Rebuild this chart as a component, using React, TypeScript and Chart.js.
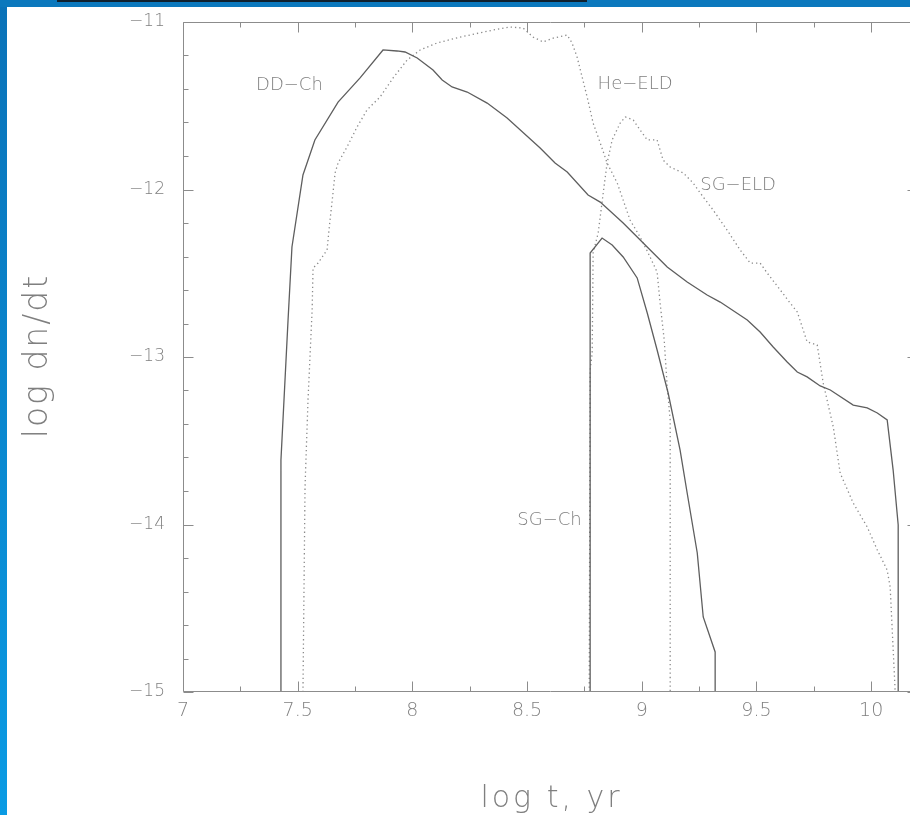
import React, { useEffect, useRef } from "react";
import { Chart, registerables } from "chart.js";

Chart.register(...registerables);

// ---------- data (log t in yr, log dn/dt) ----------
const ddChX = [7.423, 7.427, 7.458, 7.475, 7.523, 7.575, 7.676, 7.772, 7.872, 7.933, 7.968, 8.021, 8.09, 8.13, 8.173, 8.239, 8.326, 8.413, 8.557, 8.622, 8.675, 8.766, 8.819, 8.919, 9.015, 9.111, 9.198, 9.285, 9.342, 9.46, 9.516, 9.573, 9.634, 9.678, 9.721, 9.778, 9.822, 9.922, 9.983, 10.027, 10.07, 10.096, 10.118, 10.118];
const ddChY = [-15, -13.615, -12.779, -12.343, -11.913, -11.704, -11.478, -11.334, -11.167, -11.173, -11.179, -11.215, -11.287, -11.346, -11.388, -11.418, -11.484, -11.573, -11.752, -11.842, -11.896, -12.033, -12.075, -12.2, -12.331, -12.463, -12.552, -12.63, -12.672, -12.779, -12.851, -12.94, -13.03, -13.09, -13.119, -13.173, -13.197, -13.287, -13.304, -13.334, -13.376, -13.675, -14.003, -15];

const sgChX = [8.775, 8.775, 8.827, 8.871, 8.919, 8.98, 9.024, 9.067, 9.115, 9.167, 9.198, 9.242, 9.268, 9.32, 9.32];
const sgChY = [-15, -12.379, -12.29, -12.331, -12.403, -12.528, -12.737, -12.958, -13.215, -13.555, -13.812, -14.17, -14.552, -14.761, -15];

const heEldX = [7.523, 7.532, 7.545, 7.563, 7.567, 7.589, 7.628, 7.641, 7.654, 7.663, 7.676, 7.715, 7.759, 7.802, 7.859, 7.916, 7.977, 8.034, 8.108, 8.208, 8.352, 8.426, 8.483, 8.526, 8.57, 8.614, 8.675, 8.696, 8.718, 8.74, 8.762, 8.788, 8.819, 8.849, 8.893, 8.949, 8.993, 9.028, 9.067, 9.08, 9.098, 9.111, 9.124, 9.124];
const heEldY = [-15, -13.776, -13.257, -12.719, -12.469, -12.439, -12.361, -12.182, -12.021, -11.901, -11.842, -11.746, -11.627, -11.525, -11.448, -11.334, -11.227, -11.167, -11.125, -11.09, -11.048, -11.03, -11.036, -11.09, -11.119, -11.096, -11.078, -11.125, -11.209, -11.328, -11.448, -11.603, -11.722, -11.842, -11.961, -12.182, -12.284, -12.379, -12.493, -12.678, -12.899, -13.179, -13.376, -15];

const sgEldX = [8.771, 8.775, 8.784, 8.788, 8.81, 8.832, 8.849, 8.871, 8.906, 8.928, 8.963, 8.993, 9.024, 9.067, 9.093, 9.124, 9.181, 9.224, 9.268, 9.311, 9.372, 9.429, 9.473, 9.516, 9.547, 9.604, 9.647, 9.678, 9.721, 9.765, 9.791, 9.835, 9.865, 9.922, 9.983, 10.027, 10.07, 10.083, 10.105];
const sgEldY = [-15, -13.078, -12.976, -12.379, -12.26, -12.021, -11.842, -11.704, -11.603, -11.567, -11.585, -11.645, -11.704, -11.704, -11.824, -11.866, -11.901, -11.961, -12.045, -12.122, -12.242, -12.361, -12.439, -12.439, -12.499, -12.6, -12.678, -12.731, -12.91, -12.928, -13.155, -13.418, -13.693, -13.872, -14.015, -14.152, -14.272, -14.373, -15];

// ---------- axes ----------
const xTickValues = [7, 7.5, 8, 8.5, 9, 9.5, 10];
const xTickLabels = ["7", "7.5", "8", "8.5", "9", "9.5", "10"];
const xMinorValues = [7.25, 7.75, 8.25, 8.75, 9.25, 9.75];
const yTickValues = [-15, -14, -13, -12, -11];
const yTickLabels = ["\u221215", "\u221214", "\u221213", "\u221212", "\u221211"];
const yMinorValues = [-14.8, -14.6, -14.4, -14.2, -13.8, -13.6, -13.4, -13.2, -12.8, -12.6, -12.4, -12.2, -11.8, -11.6, -11.4, -11.2];

const xTitle = "log t, yr";
const yTitle = "log dn/dt";

// curve labels (anchored in data coordinates)
const curveLabelText = ["DD\u2212Ch", "He\u2212ELD", "SG\u2212ELD", "SG\u2212Ch"];
const curveLabelX = [7.464, 8.971, 9.42, 8.598];
const curveLabelY = [-11.376, -11.37, -11.977, -13.977];

const X_MIN = 7;
const X_MAX = 10.2;
const Y_MIN = -15;
const Y_MAX = -11;

const TEXT_COLOR = "#7f7f7f";
const AXIS_COLOR = "#8c8c8c";
const SOLID_COLOR = "#5e5e5e";
const DOT_COLOR = "#8a8a8a";
const FAMILY = "'DejaVu Sans', 'Liberation Sans', sans-serif";
const WEIGHT = "200";

const pts = (xs: number[], ys: number[]) => xs.map((x, i) => ({ x, y: ys[i] }));

const frameAndTextPlugin = {
  id: "frameAndText",
  afterDatasetsDraw(chart: any) {
    const { ctx, chartArea: a, scales } = chart;
    const xs = scales.x;
    const ys = scales.y;
    const L = Math.round(a.left) + 0.5;
    const R = Math.round(a.right) + 0.5;
    const T = Math.round(a.top) + 0.5;
    const B = Math.round(a.bottom) - 0.5;
    ctx.save();
    ctx.strokeStyle = AXIS_COLOR;
    ctx.lineWidth = 1;
    ctx.beginPath();
    ctx.moveTo(L, T);
    ctx.lineTo(R, T);
    ctx.lineTo(R, B);
    ctx.lineTo(L, B);
    ctx.closePath();
    const xTick = (v: number, len: number) => {
      const p = Math.round(xs.getPixelForValue(v)) + 0.5;
      ctx.moveTo(p, B);
      ctx.lineTo(p, B - len);
      ctx.moveTo(p, T);
      ctx.lineTo(p, T + len);
    };
    const yTick = (v: number, len: number) => {
      const p = Math.round(ys.getPixelForValue(v)) + 0.5;
      ctx.moveTo(L, p);
      ctx.lineTo(L + len, p);
      ctx.moveTo(R, p);
      ctx.lineTo(R - len, p);
    };
    xTickValues.forEach((v) => xTick(v, 10));
    xMinorValues.forEach((v) => xTick(v, 5));
    yTickValues.forEach((v) => yTick(v, 10));
    yMinorValues.forEach((v) => yTick(v, 5));
    ctx.stroke();

    // curve labels
    ctx.fillStyle = TEXT_COLOR;
    ctx.font = `${WEIGHT} 18px ${FAMILY}`;
    ctx.textAlign = "center";
    ctx.textBaseline = "middle";
    curveLabelText.forEach((t, i) => {
      ctx.fillText(t, xs.getPixelForValue(curveLabelX[i]), ys.getPixelForValue(curveLabelY[i]));
    });

    // axis titles
    try { (ctx as any).letterSpacing = "3px"; } catch (e) {}
    ctx.textBaseline = "alphabetic";
    ctx.font = `${WEIGHT} 30px ${FAMILY}`;
    ctx.fillText(xTitle, (a.left + a.right) / 2 + 1.5, a.bottom + 115);
    ctx.font = `${WEIGHT} 33px ${FAMILY}`;
    try { (ctx as any).letterSpacing = "2px"; } catch (e) {}
    ctx.translate(47, (a.top + a.bottom) / 2);
    ctx.rotate(-Math.PI / 2);
    ctx.fillText(yTitle, 1, 0);
    ctx.restore();
  },
};

export default function App() {
  const canvasRef = useRef<HTMLCanvasElement | null>(null);

  useEffect(() => {
    if (!canvasRef.current) return;
    const solid = (label: string, data: any[]) => ({
      label,
      data,
      showLine: true,
      borderColor: SOLID_COLOR,
      borderWidth: 1.3,
      pointRadius: 0,
      fill: false,
      tension: 0,
    });
    const dotted = (label: string, data: any[]) => ({
      label,
      data,
      showLine: true,
      borderColor: DOT_COLOR,
      borderWidth: 1.3,
      borderDash: [1.3, 3],
      pointRadius: 0,
      fill: false,
      tension: 0,
    });
    const chart = new Chart(canvasRef.current, {
      type: "scatter",
      data: {
        datasets: [
          solid("DD-Ch", pts(ddChX, ddChY)),
          solid("SG-Ch", pts(sgChX, sgChY)),
          dotted("He-ELD", pts(heEldX, heEldY)),
          dotted("SG-ELD", pts(sgEldX, sgEldY)),
        ],
      },
      options: {
        animation: false,
        responsive: false,
        devicePixelRatio: 1,
        layout: { padding: { left: 0, top: 22, right: 13, bottom: 0 } },
        plugins: {
          legend: { display: false },
          tooltip: { enabled: false },
        },
        scales: {
          x: {
            type: "linear",
            min: X_MIN,
            max: X_MAX,
            afterBuildTicks: (s: any) => {
              s.ticks = xTickValues.map((v) => ({ value: v }));
            },
            afterFit: (s: any) => {
              s.height = 123;
              s.paddingLeft = 0;
              s.paddingRight = 0;
            },
            grid: { display: false, drawTicks: false },
            border: { display: false },
            title: { display: false },
            ticks: {
              color: TEXT_COLOR,
              font: { family: FAMILY, size: 19, weight: WEIGHT as any },
              padding: 8,
              maxRotation: 0,
              autoSkip: false,
              callback: (_v: any, i: number) => xTickLabels[i],
            },
          },
          y: {
            type: "linear",
            min: Y_MIN,
            max: Y_MAX,
            afterBuildTicks: (s: any) => {
              s.ticks = yTickValues.map((v) => ({ value: v }));
            },
            afterFit: (s: any) => {
              s.width = 183;
              s.paddingTop = 0;
              s.paddingBottom = 0;
            },
            grid: { display: false, drawTicks: false },
            border: { display: false },
            title: { display: false },
            ticks: {
              color: TEXT_COLOR,
              font: { family: FAMILY, size: 17, weight: WEIGHT as any },
              padding: 18,
              autoSkip: false,
              callback: (_v: any, i: number) => yTickLabels[i],
            },
          },
        },
      },
      plugins: [frameAndTextPlugin],
    });
    return () => chart.destroy();
  }, []);

  return (
    <div
      style={{
        position: "fixed",
        left: 0,
        top: 0,
        width: 910,
        height: 815,
        overflow: "hidden",
        background: "#ffffff",
      }}
    >
      <canvas
        ref={canvasRef}
        width={930}
        height={815}
        style={{ position: "absolute", left: 0, top: 0, width: 930, height: 815 }}
      />
      <div
        style={{
          position: "absolute",
          left: 0,
          top: 0,
          width: 7,
          height: 815,
          background: "linear-gradient(#0a72b8, #0a9be4)",
        }}
      />
      <div
        style={{
          position: "absolute",
          left: 0,
          top: 0,
          width: 910,
          height: 7,
          background: "#0b78bd",
        }}
      />
      <div
        style={{
          position: "absolute",
          left: 57,
          top: 0,
          width: 530,
          height: 2,
          background: "#10202e",
        }}
      />
    </div>
  );
}
